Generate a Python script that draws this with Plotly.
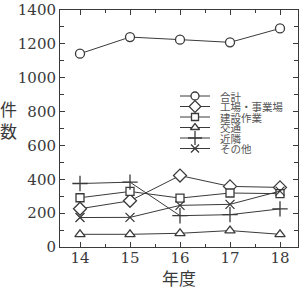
import plotly.graph_objects as go

years = [14, 15, 16, 17, 18]
series_names = ["合計", "工場・事業場", "建設作業", "交通", "近隣", "その他"]
total = [1142, 1240, 1225, 1209, 1291]
factory = [226, 273, 422, 358, 352]
construction = [291, 328, 289, 319, 315]
traffic = [75, 75, 81, 97, 75]
neighbor = [375, 383, 185, 191, 225]
other = [174, 175, 246, 252, 330]
y_ticks = [0, 200, 400, 600, 800, 1000, 1200, 1400]
x_ticks = [14, 15, 16, 17, 18]

symbols = ["circle", "diamond", "square", "triangle-up", "cross-thin", "x-thin"]
sizes = [9, 10, 8, 9, 11, 9]
data = [total, factory, construction, traffic, neighbor, other]
INK = "#3a3a3a"
SERIF = "DejaVu Serif"
CJK = "Noto Sans CJK JP"


def marker_style(sym, sz):
    fill = INK if "thin" in sym else "white"
    return dict(symbol=sym, size=sz, color=fill, line=dict(color=INK, width=1.3))


fig = go.Figure()
for name, vals, sym, sz in zip(series_names, data, symbols, sizes):
    fig.add_trace(go.Scatter(
        x=years, y=vals, name=name, mode="lines+markers",
        line=dict(color=INK, width=1),
        marker=marker_style(sym, sz),
        showlegend=False, cliponaxis=False))

# custom compact legend on an overlay pixel axis
row_y = [96, 106.5, 117, 127.5, 138, 148.5]
for name, sym, sz, ry in zip(series_names, symbols, sizes, row_y):
    fig.add_trace(go.Scatter(
        x=[180, 210], y=[ry, ry], mode="lines", xaxis="x2", yaxis="y2",
        line=dict(color=INK, width=1), showlegend=False, hoverinfo="skip"))
    fig.add_trace(go.Scatter(
        x=[195], y=[ry], mode="markers", xaxis="x2", yaxis="y2",
        marker=marker_style(sym, sz - 1),
        showlegend=False, hoverinfo="skip"))
    fig.add_annotation(x=218, y=ry, xref="x2", yref="y2", text=name, showarrow=False,
                       xanchor="left", yanchor="middle",
                       font=dict(family=CJK, size=10.5, color="#555"))

axis_common = dict(showline=True, linecolor=INK, linewidth=1, mirror="allticks",
                   ticks="inside", tickcolor=INK, showgrid=False, zeroline=False,
                   tickfont=dict(family=SERIF, size=15, color=INK))

fig.update_layout(
    width=300, height=289,
    margin=dict(l=60, r=2, t=10, b=42),
    font=dict(family=SERIF, color=INK),
    plot_bgcolor="white", paper_bgcolor="white",
    xaxis=dict(range=[13.6, 18.36], tickvals=x_ticks, ticklen=5, ticklabelstandoff=-3,
               minor=dict(dtick=0.5, tick0=13.5, ticks="inside", ticklen=3, tickcolor=INK),
               **axis_common),
    yaxis=dict(range=[0, 1400], tickvals=y_ticks, ticklen=5,
               minor=dict(dtick=100, ticks="inside", ticklen=4, tickcolor=INK),
               **axis_common),
    xaxis2=dict(range=[60, 298], domain=[0, 1], overlaying="x", visible=False, fixedrange=True),
    yaxis2=dict(range=[247, 10], domain=[0, 1], overlaying="y", visible=False, fixedrange=True),
)

fig.add_annotation(x=-0.218, y=0.54, xref="paper", yref="paper", text="件<br>数",
                   xanchor="center", yanchor="middle",
                   showarrow=False, font=dict(family=CJK, size=17, color=INK))
fig.add_annotation(x=0.5, y=-0.13, xref="paper", yref="paper", text="年度",
                   xanchor="center", yanchor="middle",
                   showarrow=False, font=dict(family=CJK, size=17, color=INK))

fig.write_html("out.html")
